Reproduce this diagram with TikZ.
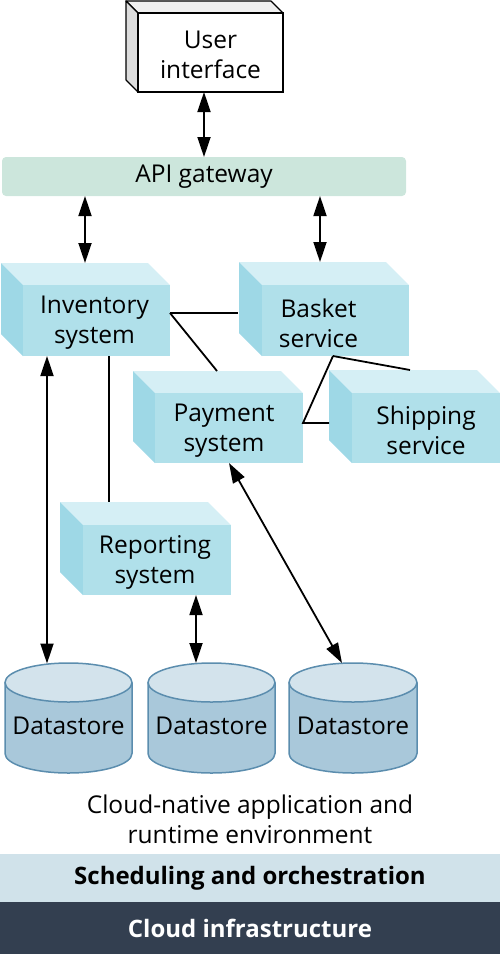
\documentclass[tikz,border=0pt]{standalone}
\usepackage{fontspec}
\setmainfont{Open Sans}
\usetikzlibrary{arrows.meta,calc}
\definecolor{cubefrontc}{HTML}{B0E0EA}
\definecolor{cubetopc}{HTML}{D5EFF5}
\definecolor{cubeleftc}{HTML}{9ED8E6}
\definecolor{uitopc}{HTML}{F0F0F0}
\definecolor{uileftc}{HTML}{DCDCDC}
\definecolor{apic}{HTML}{CCE6DC}
\definecolor{dstopc}{HTML}{D3E3EC}
\definecolor{dsbodyc}{HTML}{A9C8DA}
\definecolor{dslinec}{HTML}{5B8DAE}
\definecolor{schedc}{HTML}{D0E2EA}
\definecolor{infrac}{HTML}{333F50}
\newcommand{\cubebox}[9]{%
  \path[#8top] (#2,-#3) -- (#2-#6,-#3+#6) -- (#4-#6,-#3+#6) -- (#4,-#3) -- cycle;
  \path[#8left] (#2,-#3) -- (#2-#6,-#3+#6) -- (#2-#6,-#5+#6) -- (#2,-#5) -- cycle;
  \node[#8front, minimum width={(#4-#2)*1pt}, minimum height={(#5-#3)*1pt}, inner sep=0pt, outer sep=0pt] (#1) at ({(#2+#4)/2},{-(#3+#5)/2}) {};
  \node[txt, yshift=-2.5pt, xshift=#9pt] (#1-label) at (#1.center) {#7};
}
\newcommand{\datastore}[3]{%
  \path[dsbody] (#2,-682.5) -- (#2,-753.5) arc[start angle=180,end angle=360,x radius={(#3-#2)/2},y radius=19.5] -- (#3,-682.5) -- cycle;
  \path[dsline] (#2,-682.5) -- (#2,-753.5) arc[start angle=180,end angle=360,x radius={(#3-#2)/2},y radius=19.5] -- (#3,-682.5);
  \path[dstop] ({(#2+#3)/2},-682.5) ellipse [x radius={(#3-#2)/2}, y radius=19.5];
  \node[txt] (#1) at ({(#2+#3)/2},-725.5) {Datastore};
}
\begin{document}
\begin{tikzpicture}[x=1pt,y=1pt,
  txt/.style={font=\fontsize{24.5}{30}\selectfont, align=center, text=black},
  bluefront/.style={fill=cubefrontc},
  bluetop/.style={fill=cubetopc},
  blueleft/.style={fill=cubeleftc},
  uifront/.style={fill=white, draw=black, line width=1.2pt},
  uitop/.style={fill=uitopc, draw=black, line width=1.2pt, line join=round},
  uileft/.style={fill=uileftc, draw=black, line width=1.2pt, line join=round},
  dsbody/.style={fill=dsbodyc},
  dsline/.style={draw=dslinec, line width=1.5pt},
  dstop/.style={fill=dstopc, draw=dslinec, line width=1.5pt},
  biarrow/.style={{Triangle[length=20pt,width=13pt]}-{Triangle[length=20pt,width=13pt]}, line width=1.8pt},
  link/.style={line width=1.8pt},
  bar/.style={minimum width=500pt, inner sep=0pt, outer sep=0pt, font=\fontsize{24}{28}\selectfont\bfseries}]
\useasboundingbox (0,0) rectangle (500,-954);
% user interface
\cubebox{ui}{138}{13}{283}{92}{12}{User\\interface}{ui}{0}
% api gateway
\node[fill=apic, rounded corners=4pt, minimum width=404pt, minimum height=39pt, inner sep=0pt, outer sep=0pt, txt] (api) at (204,-176.5) {API gateway};
% services
\cubebox{inv}{23}{285}{170}{356}{22}{Inventory\\system}{blue}{-2}
\cubebox{basket}{262}{285}{409}{356}{23}{Basket\\service}{blue}{-17}
\cubebox{pay}{155}{393}{303}{463}{22}{Payment\\system}{blue}{-5}
\cubebox{ship}{352}{393}{500}{463}{23}{Shipping\\service}{blue}{0}
\cubebox{rep}{83}{525}{231}{595}{23}{Reporting\\system}{blue}{-2}
% datastores
\datastore{ds1}{5}{132}
\datastore{ds2}{148}{275}
\datastore{ds3}{289}{417}
% connector points
\coordinate (invIn) at ($(inv.north west)+(62,22)$);
\coordinate (basIn) at ($(basket.north west)+(58,23)$);
\coordinate (invR) at ($(inv.north east)+(0,-28)$);
\coordinate (basL) at ($(basket.north west)+(-24,-28)$);
\coordinate (payTop) at ($(pay.north west)+(62,22)$);
\coordinate (basB) at ($(basket.south west)+(71,0)$);
\coordinate (payR) at ($(pay.north east)+(0,-30)$);
\coordinate (shipL) at ($(ship.north west)+(-23,-30)$);
\coordinate (shipTop) at ($(ship.north west)+(58,23)$);
\coordinate (invB1) at ($(inv.south west)+(24,0)$);
\coordinate (invB2) at ($(inv.south west)+(86,0)$);
\coordinate (repTop) at ($(rep.north west)+(26,23)$);
\coordinate (repB) at ($(rep.south west)+(113,0)$);
\coordinate (payB) at ($(pay.south west)+(74,0)$);
\coordinate (ds1in) at ($(ds1)+(-21.5,62)$);
\coordinate (ds2in) at ($(ds2)+(-15.5,62.5)$);
\coordinate (ds3in) at ($(ds3)+(-11,62.5)$);
% connectors
\draw[biarrow] (ui.south -| api.north) -- (api.north);
\draw[biarrow] (api.south -| invIn) -- (invIn);
\draw[biarrow] (api.south -| basIn) -- (basIn);
\draw[link] (invR) -- (basL);
\draw[link] (invR) -- (payTop);
\draw[link] (basB) -- (payR) -- (shipL);
\draw[link] (basB) -- (shipTop);
\draw[link] (invB2) -- (repTop);
\draw[biarrow] (invB1) -- (ds1in);
\draw[biarrow] (repB) -- (ds2in);
\draw[biarrow] (payB) -- (ds3in);
% bottom
\node[txt] (cap) at (250,-819) {Cloud-native application and\\runtime environment};
\node[bar, fill=schedc, minimum height=48pt, text=black] (sched) at (250,-878) {Scheduling and orchestration};
\node[bar, fill=infrac, minimum height=52pt, text=white] (infra) at (250,-928) {Cloud infrastructure};
\end{tikzpicture}
\end{document}
